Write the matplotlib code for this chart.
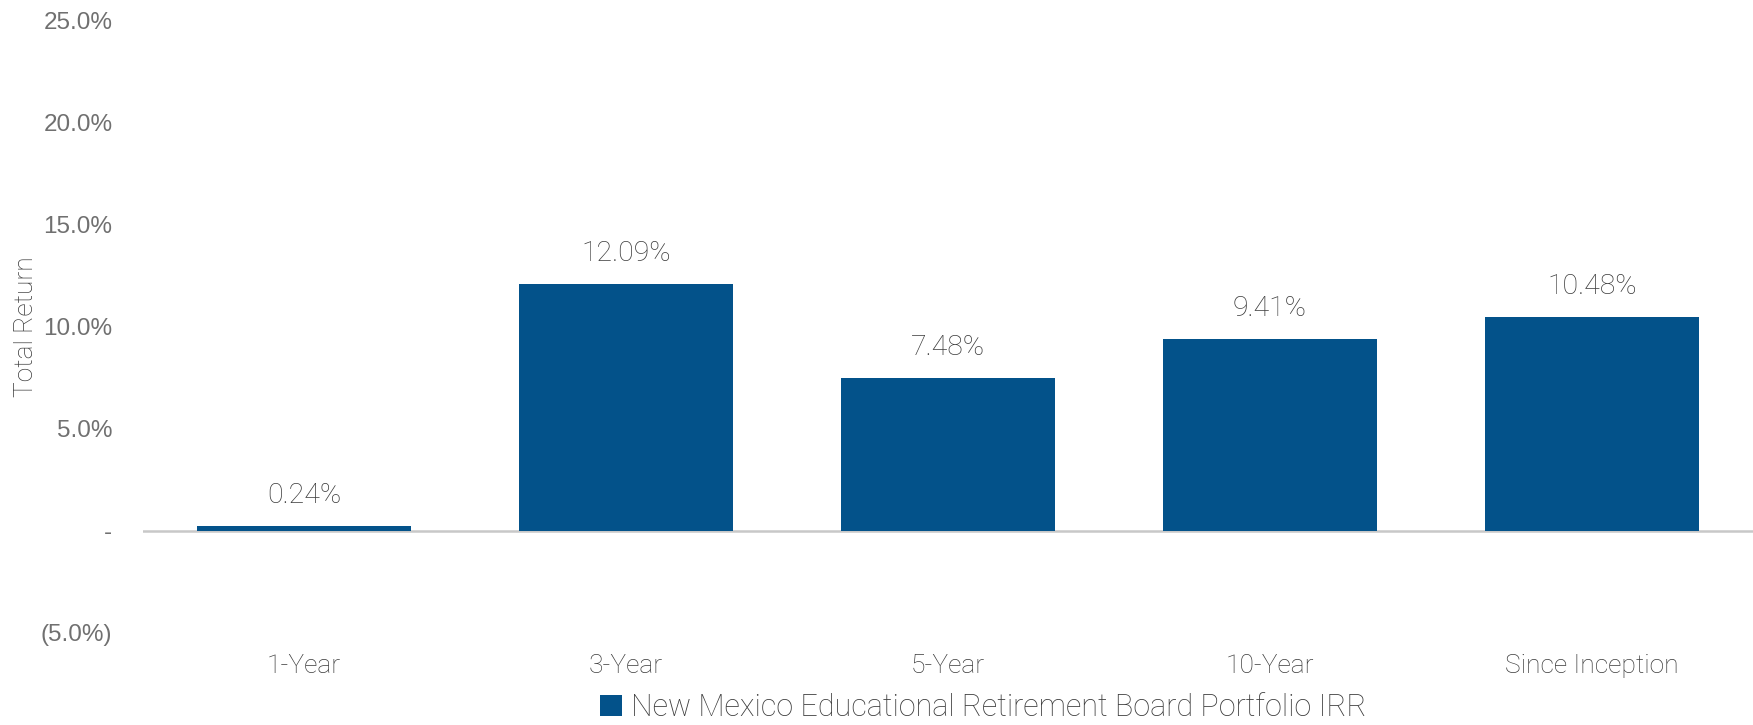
import matplotlib.pyplot as plt
from matplotlib.ticker import FuncFormatter

periods = ['1-Year', '3-Year', '5-Year', '10-Year', 'Since Inception']
irr = [0.24, 12.09, 7.48, 9.41, 10.48]
series_name = 'New Mexico Educational Retirement Board Portfolio IRR'
y_ticks = [-5, 0, 5, 10, 15, 20, 25]

bar_color = '#03528A'
text_color = '#3c3c3c'


def pct_fmt(v, pos):
    if abs(v) < 1e-9:
        return '-'
    if v < 0:
        return '({:.1f}%)'.format(-v)
    return '{:.1f}%'.format(v)


fig = plt.figure(figsize=(17.53, 7.25), dpi=100)
ax = fig.add_axes([0.0816, 0.127, 0.9184, 0.845])

x = range(len(periods))
bars = ax.bar(x, irr, width=0.666, color=bar_color, label=series_name, zorder=3)
ax.axhline(0, color='#C8C8C8', linewidth=1.8, zorder=2)

for b, v in zip(bars, irr):
    ax.annotate('{:.2f}%'.format(v), (b.get_x() + b.get_width() / 2, v),
                xytext=(0, 12), textcoords='offset points',
                ha='center', va='bottom', fontsize=20.5, color=text_color,
                family='Roboto', weight='light')

ax.set_xlim(-0.5, len(periods) - 0.5)
ax.set_ylim(-5, 25)
ax.set_yticks(y_ticks)
ax.yaxis.set_major_formatter(FuncFormatter(pct_fmt))
ax.set_xticks(list(x))
ax.set_xticklabels(periods, family='Roboto', weight='light', fontsize=19, color=text_color)
for lbl in ax.get_yticklabels():
    lbl.set_family('Liberation Sans')
    lbl.set_fontsize(17.5)
    lbl.set_color('#707070')
ax.tick_params(axis='both', length=0)
ax.tick_params(axis='y', pad=22)
ax.tick_params(axis='x', pad=15)
for s in ax.spines.values():
    s.set_visible(False)

ax.set_ylabel('Total Return', family='Roboto', weight='light', fontsize=19,
              color=text_color)
ax.yaxis.set_label_coords(-0.065, 0.5)

leg = fig.legend(handles=[bars], labels=[series_name], loc='center',
                 bbox_to_anchor=(0.561, 0.024), frameon=False,
                 prop={'family': 'Roboto', 'weight': 'light', 'size': 22},
                 handlelength=0.7, handleheight=0.7, handletextpad=0.3)
for t in leg.get_texts():
    t.set_color(text_color)

fig.savefig('out.png', dpi=100)
